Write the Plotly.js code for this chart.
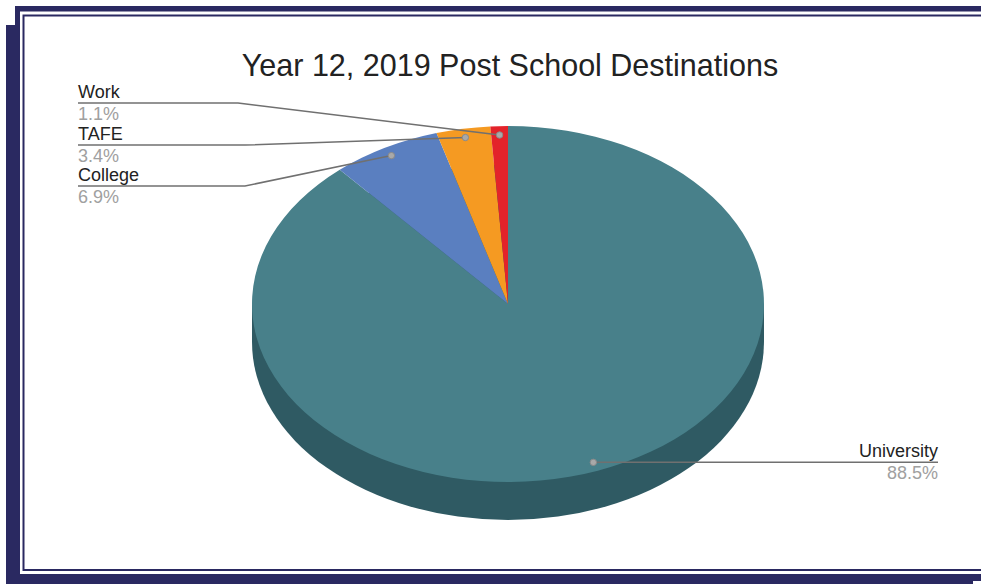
<!DOCTYPE html>
<html>
<head>
<meta charset="utf-8">
<script src="https://cdn.plot.ly/plotly-3.0.1.min.js"></script>
<style>
html,body{margin:0;padding:0;background:#fff;}
#chart{width:981px;height:584px;}
</style>
</head>
<body>
<div id="chart"></div>
<script>
// ---- data ----
const labels = ['University', 'College', 'TAFE', 'Work'];
const values = [88.5, 6.9, 3.4, 1.1];
const percentText = ['88.5%', '6.9%', '3.4%', '1.1%'];
const colors = ['#48808a', '#5a7fc0', '#f59a22', '#e3232a'];
const chartTitle = 'Year 12, 2019 Post School Destinations';

// ---- geometry (pixels) ----
const W = 981, H = 584;
const X = x => x / W, Y = y => 1 - y / H;
const CX = 508, CY = 304, R = 256, RY = 178, DEPTH = 38;
const SQ = RY / R;
const navy = '#2a2961';
const FONT = '"Liberation Sans", Arial, sans-serif';

const shapes = [];
// 3D side of the pie (below)
shapes.push({type: 'circle', layer: 'below', xref: 'paper', yref: 'paper',
  x0: X(CX - R), x1: X(CX + R), y0: Y(CY + DEPTH + RY), y1: Y(CY + DEPTH - RY),
  fillcolor: '#2f5a63', line: {width: 0}});
shapes.push({type: 'rect', layer: 'below', xref: 'paper', yref: 'paper',
  x0: X(CX - R), x1: X(CX + R), y0: Y(CY + DEPTH), y1: Y(CY),
  fillcolor: '#2f5a63', line: {width: 0}});

// frame
function box(x0, y0, x1, y1) {
  shapes.push({type: 'rect', layer: 'above', xref: 'paper', yref: 'paper',
    x0: X(x0), x1: X(x1), y0: Y(y1), y1: Y(y0), fillcolor: navy, line: {width: 0}});
}
box(15, 6, 990, 11.5);
box(15, 6, 20, 25);
box(6, 25, 20, 581);
box(6, 574, 990, 581);
box(6, 581, 973, 590);
shapes.push({type: 'rect', layer: 'above', xref: 'paper', yref: 'paper',
  x0: X(23.5), x1: X(990), y0: Y(570), y1: Y(15.5), fillcolor: 'rgba(0,0,0,0)',
  line: {color: navy, width: 2}});

// leader lines + dots, computed from the data
const total = values.reduce((a, b) => a + b, 0);
let cum = 0;
const annotations = [];
const leftLabels = {College: {lineY: 186, elbowX: 245}, TAFE: {lineY: 145, elbowX: 245}, Work: {lineY: 103, elbowX: 238}};
values.forEach((v, i) => {
  const mid = (cum + v / 2) / total;
  cum += v;
  const th = 2 * Math.PI * mid;
  const dx = CX + 0.95 * R * Math.sin(th);
  const dy = CY - 0.95 * RY * Math.cos(th);
  let path, tx, ty, anchor;
  if (leftLabels[labels[i]]) {
    const L = leftLabels[labels[i]];
    path = `M ${X(dx)},${Y(dy)} L ${X(L.elbowX)},${Y(L.lineY)} L ${X(78)},${Y(L.lineY)}`;
    tx = 76; ty = L.lineY; anchor = 'left';
  } else {
    path = `M ${X(dx)},${Y(dy)} L ${X(938)},${Y(dy)}`;
    tx = 940; ty = dy; anchor = 'right';
  }
  shapes.push({type: 'path', layer: 'above', xref: 'paper', yref: 'paper', path: path,
    line: {color: '#707070', width: 1.5}});
  shapes.push({type: 'circle', layer: 'above', xref: 'paper', yref: 'paper',
    x0: X(dx - 3.2), x1: X(dx + 3.2), y0: Y(dy + 3.2), y1: Y(dy - 3.2),
    fillcolor: '#a9a9a9', line: {color: '#8a8a8a', width: 1}});
  annotations.push({xref: 'paper', yref: 'paper', x: X(tx), y: Y(ty - 11), xanchor: anchor, yanchor: 'middle',
    text: labels[i], showarrow: false, font: {family: FONT, size: 18, color: '#222'}});
  annotations.push({xref: 'paper', yref: 'paper', x: X(tx), y: Y(ty + 11), xanchor: anchor, yanchor: 'middle',
    text: percentText[i], showarrow: false, font: {family: FONT, size: 18, color: '#a0a0a0'}});
});

const trace = {
  type: 'pie',
  labels: labels,
  values: values,
  sort: false,
  direction: 'clockwise',
  rotation: 0,
  textinfo: 'none',
  hoverinfo: 'none',
  marker: {colors: colors, line: {width: 0}},
  domain: {x: [X(CX - R), X(CX + R)], y: [Y(CY + R), Y(CY - R)]},
  showlegend: false
};

const layout = {
  width: W, height: H,
  margin: {l: 0, r: 0, t: 0, b: 0},
  paper_bgcolor: '#ffffff',
  showlegend: false,
  title: {text: chartTitle, x: X(510), xanchor: 'center', y: Y(65), yanchor: 'middle',
    font: {family: FONT, size: 30.5, color: '#222'}},
  shapes: shapes,
  annotations: annotations
};

function squash() {
  const g = document.querySelector('#chart .pielayer');
  if (g) g.setAttribute('transform', `translate(0,${CY * (1 - SQ)}) scale(1,${SQ})`);
}
const gd = document.getElementById('chart');
Plotly.newPlot(gd, [trace], layout, {staticPlot: true, displayModeBar: false}).then(() => {
  squash();
  gd.on && gd.on('plotly_afterplot', squash);
});
</script>
</body>
</html>
